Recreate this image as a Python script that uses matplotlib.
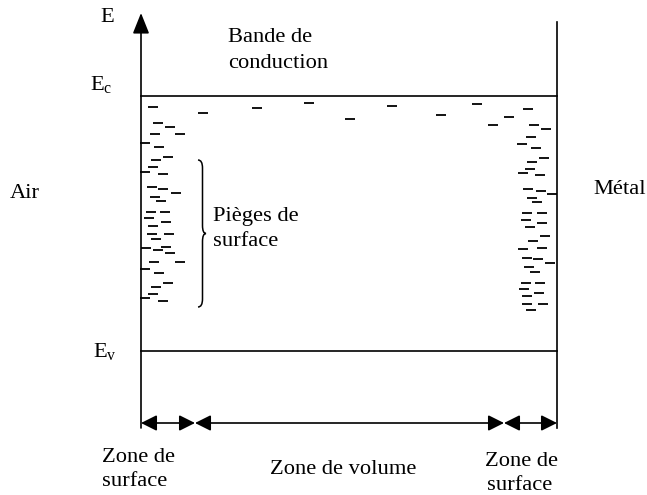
import matplotlib
matplotlib.use('Agg')
import matplotlib.pyplot as plt
from matplotlib.path import Path
from matplotlib.patches import PathPatch

plt.rcParams['font.family'] = 'Liberation Serif'
plt.rcParams['mathtext.fontset'] = 'custom'
plt.rcParams['mathtext.rm'] = 'Liberation Serif'
plt.rcParams['mathtext.it'] = 'Liberation Serif'

# band edges (pixel rows) and walls (pixel columns)
x_air, x_metal = 141, 557
y_ec, y_ev = 95.5, 351

# trap levels: centre x, y of each dash
left_x = [152.7, 158.3, 170, 155, 180, 145, 159.3, 168.3, 156, 153.3, 145, 163.3,
          151.7, 163.3, 176, 155, 160.7, 150.7, 165, 149.3, 166, 153.3, 152.3, 169.3,
          156, 146, 158.3, 166, 170, 154, 180, 145, 159.3, 168.3, 156, 153.3, 145, 163.3]
left_y = [107.3, 123.3, 127.3, 134.3, 134.3, 142.7, 146.7, 157.3, 160, 167.3, 171.7, 174,
          187.3, 189.3, 192.7, 196.7, 200.7, 212.3, 212.3, 218.3, 222.3, 225.7, 234, 234,
          239.3, 248.3, 250, 246.7, 253.3, 261.7, 261.7, 269.3, 272.7, 282.7, 286.7, 294, 298.3, 300.7]

bulk_x = [202.7, 257.3, 309, 350, 392.3, 440.7, 476.7]
bulk_y = [112.7, 107.7, 103.3, 119, 105.7, 115, 104.3]

right_x = [528.3, 509.3, 492.7, 534, 545.7, 530.7, 521.7, 535.7, 544.3, 532.3, 530, 522.7,
           540, 528.3, 540.7, 551.7, 531.7, 536.7, 527.3, 542.3, 526, 542.3, 530, 545,
           532.7, 522.7, 541.7, 526.7, 538.3, 550, 529.3, 535, 525.7, 540, 524.3, 539.3,
           527.3, 526.7, 543.3, 531]
right_y = [109.3, 116.7, 125, 125, 129, 136.7, 144, 147.7, 158.3, 161.7, 169, 173.3,
           175, 189, 190.7, 194.3, 197.7, 202.3, 213.3, 213.3, 220, 223.3, 227.3, 235.7,
           241, 249.3, 247.7, 258.3, 259.3, 263.3, 266.7, 271.7, 282.7, 282.7, 289.3, 292.7,
           296, 304.3, 304.3, 310]

# zone boundaries along the bottom arrows
zone_edges = [141, 195, 504, 557]

fig = plt.figure(figsize=(6.47, 4.95), dpi=100)
ax = fig.add_axes([0, 0, 1, 1])
ax.set_xlim(0, 647)
ax.set_ylim(495, 0)
ax.axis('off')

lw = 1.2
# energy axis with arrow, and metal wall
ax.annotate('', xy=(x_air, 13), xytext=(x_air, 428),
            arrowprops=dict(arrowstyle='-|>,head_length=0.7,head_width=0.28',
                            mutation_scale=18, lw=lw, color='black',
                            shrinkA=0, shrinkB=0))
ax.plot([x_metal, x_metal], [22, 428], color='black', lw=lw)
ax.plot([x_air, x_metal], [y_ec, y_ec], color='black', lw=lw)
ax.plot([x_air, x_metal], [y_ev, y_ev], color='black', lw=lw)

# trap dashes
half = 5
for xs, ys in [(left_x, left_y), (bulk_x, bulk_y), (right_x, right_y)]:
    ax.hlines(ys, [x - half for x in xs], [x + half for x in xs], color='black', lw=1.3)

# zone arrows
for a, b in zip(zone_edges[:-1], zone_edges[1:]):
    ax.annotate('', xy=(b, 423), xytext=(a, 423),
                arrowprops=dict(arrowstyle='<|-|>,head_length=0.6,head_width=0.3',
                                mutation_scale=16, lw=lw, color='black',
                                shrinkA=0, shrinkB=0))

# curly brace for surface traps
y0, y1 = 160, 307
ym = (y0 + y1) / 2
xs, xc, xp = 198, 202.5, 206
codes = [Path.MOVETO, Path.CURVE3, Path.CURVE3, Path.LINETO,
         Path.CURVE3, Path.CURVE3, Path.CURVE3, Path.CURVE3,
         Path.LINETO, Path.CURVE3, Path.CURVE3]
verts = [(xs, y0), (xc, y0), (xc, y0 + 8),
         (xc, ym - 8), (xc, ym), (xp, ym), (xc, ym), (xc, ym + 8),
         (xc, y1 - 8), (xc, y1), (xs, y1)]
ax.add_patch(PathPatch(Path(verts, codes), fill=False, lw=1.1, color='black'))

fs = 16.2
ax.text(107, 17, 'E', fontsize=fs, ha='center', va='center')
ax.text(228, 38, 'Bande de', fontsize=fs, ha='left', va='center')
ax.text(228, 63, 'conduction', fontsize=fs, ha='left', va='center')
ax.text(90, 90, r'$\mathrm{E}_{\mathrm{c}}$', fontsize=fs, ha='left', va='baseline')
ax.text(93, 357, r'$\mathrm{E}_{\mathrm{v}}$', fontsize=fs, ha='left', va='baseline')
ax.text(10, 194, 'Air', fontsize=fs, ha='left', va='center')
ax.text(593, 189, 'Métal', fontsize=fs, ha='left', va='center')
ax.text(213, 217, 'Pièges de', fontsize=fs, ha='left', va='center')
ax.text(213, 241, 'surface', fontsize=fs, ha='left', va='center')
ax.text(102, 457, 'Zone de', fontsize=fs, ha='left', va='center')
ax.text(102, 482, 'surface', fontsize=fs, ha='left', va='center')
ax.text(270, 470, 'Zone de volume', fontsize=fs, ha='left', va='center')
ax.text(485, 462, 'Zone de', fontsize=fs, ha='left', va='center')
ax.text(487, 486, 'surface', fontsize=fs, ha='left', va='center')

fig.savefig('out.png', dpi=100)
